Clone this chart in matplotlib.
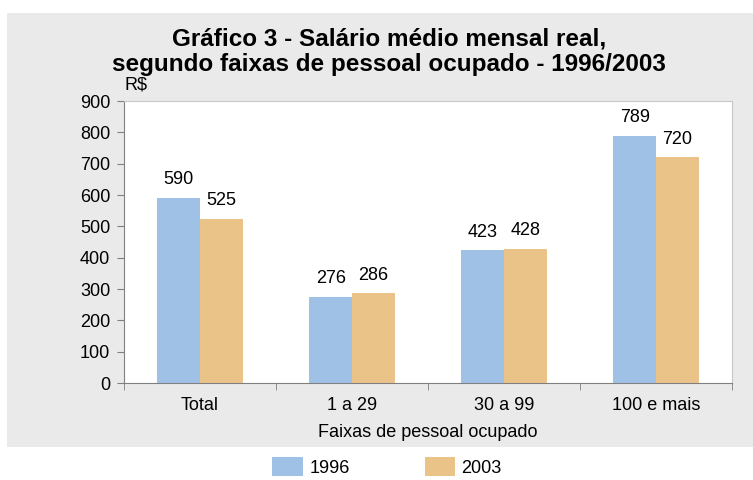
import numpy as np
import matplotlib.pyplot as plt
from matplotlib.patches import Rectangle

# Data
categorias = ['Total', '1 a 29', '30 a 99', '100 e mais']
valores_1996 = [590, 276, 423, 789]
valores_2003 = [525, 286, 428, 720]

plt.rcParams['font.family'] = ['Liberation Sans Narrow', 'Liberation Sans', 'DejaVu Sans']

fig = plt.figure(figsize=(7.53, 4.8), dpi=100)

# Gray panel behind the chart
fig.patches.append(Rectangle((7 / 753, 1 - 447 / 480), 1 - 7 / 753, (447 - 13) / 480,
                             transform=fig.transFigure, facecolor='#EAEAEA',
                             edgecolor='none', zorder=-10))

ax = fig.add_axes([124 / 753, 1 - 383 / 480, (732 - 124) / 753, (383 - 101) / 480])
ax.set_zorder(5)
ax.set_facecolor('white')

x = np.arange(len(categorias))
w = 0.28
b1 = ax.bar(x - w / 2, valores_1996, w, color='#A0C1E6', label='1996')
b2 = ax.bar(x + w / 2, valores_2003, w, color='#EAC388', label='2003')

for bars in (b1, b2):
    for bar in bars:
        ax.annotate(f'{int(bar.get_height())}',
                    (bar.get_x() + bar.get_width() / 2, bar.get_height()),
                    xytext=(0, 7), textcoords='offset points',
                    ha='center', va='bottom', fontsize=13)

ax.set_xlim(-0.5, len(categorias) - 0.5)
ax.set_ylim(0, 900)
ax.set_yticks(range(0, 901, 100))
ax.set_xticks(x)
ax.set_xticklabels(categorias, fontsize=13)
ax.set_xticks(np.arange(-0.5, len(categorias), 1), minor=True)
ax.tick_params(axis='x', which='major', length=0, pad=10)
ax.tick_params(axis='x', which='minor', length=5, color='#808080')
ax.tick_params(axis='y', labelsize=13, length=5, color='#808080', pad=5)

for s in ['top', 'right']:
    ax.spines[s].set_color('#C8C8C8')
for s in ['left', 'bottom']:
    ax.spines[s].set_color('#808080')

ax.set_xlabel('Faixas de pessoal ocupado', fontsize=13, labelpad=7)
ax.text(0.0, 1.025, 'R$', transform=ax.transAxes, fontsize=13, ha='left', va='bottom')

fig.text(389 / 753, 1 - 52 / 480, 'Gráfico 3 - Salário médio mensal real,\nsegundo faixas de pessoal ocupado - 1996/2003',
         ha='center', va='center', fontsize=17.5, fontweight='bold', linespacing=1.15)

fig.legend(handles=[b1, b2], loc='center', bbox_to_anchor=(387 / 753, 1 - 467 / 480),
           ncol=2, frameon=False, fontsize=13, handlelength=1.7, handleheight=1.2,
           columnspacing=4.15, handletextpad=0.35)

fig.savefig('out.png', dpi=100)
